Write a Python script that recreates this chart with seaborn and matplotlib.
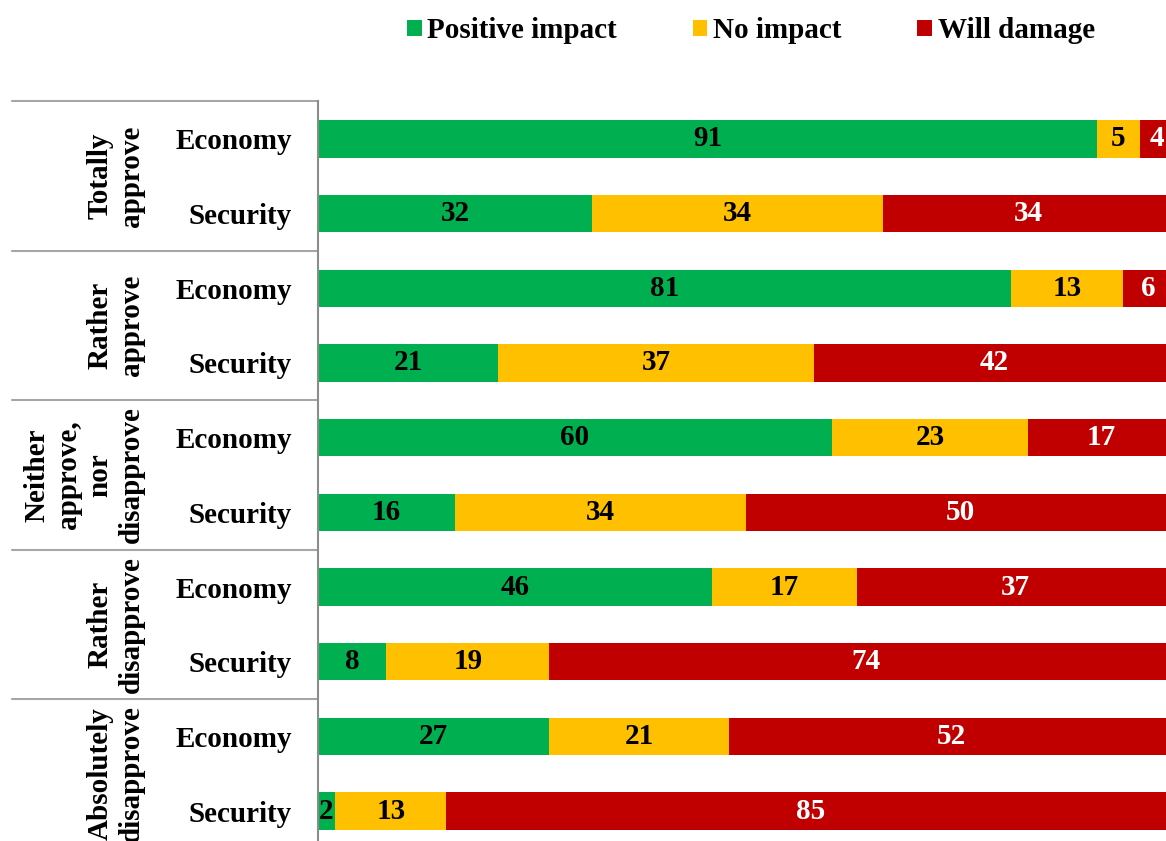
import pandas as pd
import matplotlib.pyplot as plt
from matplotlib.patches import Patch
import seaborn as sns

# Data
groups = ['Totally\napprove', 'Rather\napprove', 'Neither\napprove,\nnor\ndisapprove',
          'Rather\ndisapprove', 'Absolutely\ndisapprove']
aspects = ['Economy', 'Security']
positive = [91, 32, 81, 21, 60, 16, 46, 8, 27, 2]
no_impact = [5, 34, 13, 37, 23, 34, 17, 19, 21, 13]
damage = [4, 34, 6, 42, 17, 50, 37, 74, 52, 85]
series = ['Positive impact', 'No impact', 'Will damage']
colors = ['#00B050', '#FFC000', '#C00000']
text_colors = ['black', 'black', 'white']


def build_frame():
    rows = [f'{g}|{a}' for g in groups for a in aspects]
    df = pd.DataFrame({'row': rows, 'positive': positive,
                       'no_impact': no_impact, 'damage': damage})
    # cumulative totals for stacking
    df['c1'] = df['positive']
    df['c2'] = df['c1'] + df['no_impact']
    df['c3'] = df['c2'] + df['damage']
    return df


def draw(df):
    sns.set_theme(style='white')
    plt.rcParams['font.family'] = ['Liberation Serif', 'DejaVu Serif']
    plt.rcParams['font.weight'] = 'bold'
    plt.rcParams['text.color'] = 'black'
    plt.rcParams['ytick.color'] = 'black'
    plt.rcParams['ytick.labelcolor'] = 'black'
    fs = 21

    fig = plt.figure(figsize=(11.66, 8.41), dpi=100)
    ax = fig.add_axes([318 / 1166, -7.5 / 841, 856 / 1166, 747 / 841])

    # draw the longest (cumulative) bars first, shorter ones on top
    for col, color in zip(['c3', 'c2', 'c1'], colors[::-1]):
        sns.barplot(data=df, x=col, y='row', color=color, orient='h',
                    width=0.5, linewidth=0, errorbar=None, saturation=1, ax=ax)

    ax.set_xlim(0, 100)
    ax.set_ylim(9.5, -0.5)
    ax.set_xlabel('')
    ax.set_ylabel('')
    ax.set_xticks([])
    ax.set_yticks(range(len(df)))
    ax.set_yticklabels(aspects * len(groups), fontsize=fs, fontweight='bold',
                       color='black')
    ax.tick_params(axis='y', length=0, pad=19)
    sns.despine(ax=ax, top=True, right=True, bottom=True, left=False)
    ax.spines['left'].set_color('#8c8c8c')
    ax.spines['left'].set_linewidth(1.5)

    # value labels in the middle of each segment
    for i in range(len(df)):
        left = 0
        for vals, tc in zip([positive, no_impact, damage], text_colors):
            v = vals[i]
            ax.text(left + v / 2, i, str(v), ha='center', va='center',
                    color=tc, fontsize=fs, fontweight='bold')
            left += v

    # group labels and separators on the left
    trans = ax.get_yaxis_transform()
    for yb in [-0.5, 1.5, 3.5, 5.5, 7.5]:
        ax.plot([-0.357, 0], [yb, yb], transform=trans, color='#a6a6a6',
                lw=1.5, clip_on=False)
    for k, g in enumerate(groups):
        ax.text(-0.202, 2 * k + 0.5, g, transform=trans, rotation=90,
                ha='right', va='center', multialignment='center',
                linespacing=1.22, fontsize=fs, fontweight='bold',
                color='black')

    handles = [Patch(facecolor=c, edgecolor='none', label=s)
               for s, c in zip(series, colors)]
    leg = fig.legend(handles=handles, loc='center',
                     bbox_to_anchor=(751 / 1166, 1 - 31 / 841), ncol=3,
                     frameon=False, prop={'size': fs, 'weight': 'bold'},
                     handlelength=0.5, handleheight=0.5, handletextpad=0.2,
                     columnspacing=2.6)
    for t in leg.get_texts():
        t.set_color('black')

    fig.savefig('out.png', dpi=100)
    plt.close(fig)


def main():
    df = build_frame()
    draw(df)


if __name__ == '__main__':
    main()
